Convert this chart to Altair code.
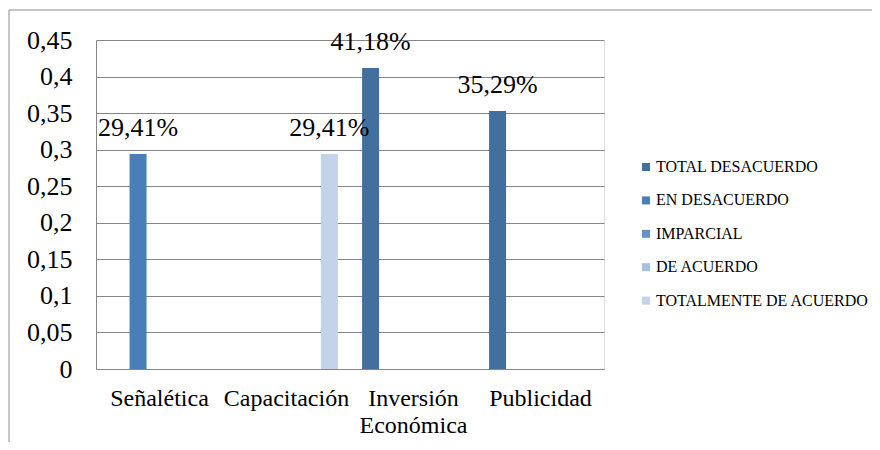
import altair as alt
import pandas as pd

categories = ["Señalética", "Capacitación", "Inversión Económica", "Publicidad"]
series = ["TOTAL DESACUERDO", "EN DESACUERDO", "IMPARCIAL", "DE ACUERDO", "TOTALMENTE DE ACUERDO"]
total_desacuerdo = [0, 0, 0.4118, 0.3529]
en_desacuerdo = [0.2941, 0, 0, 0]
imparcial = [0, 0, 0, 0]
de_acuerdo = [0, 0, 0, 0]
totalmente_de_acuerdo = [0, 0.2941, 0, 0]
colors = ["#41709E", "#4A7EB8", "#5B95CC", "#A6C0DF", "#C3D3EA"]
y_ticks = [0, 0.05, 0.1, 0.15, 0.2, 0.25, 0.3, 0.35, 0.4, 0.45]

values_by_series = [total_desacuerdo, en_desacuerdo, imparcial, de_acuerdo, totalmente_de_acuerdo]
rows = []
for s, vals in zip(series, values_by_series):
    for c, v in zip(categories, vals):
        rows.append({"categoria": c, "serie": s, "valor": v})
df = pd.DataFrame(rows)

FONT = "Times New Roman, Liberation Serif, serif"
GRID = "#868686"

x_enc = alt.X(
    "categoria:N",
    sort=categories,
    scale=alt.Scale(paddingInner=0.155, paddingOuter=0.0775),
    axis=alt.Axis(
        title=None,
        labelAngle=0,
        ticks=False,
        grid=False,
        domainColor=GRID,
        labelFont=FONT,
        labelFontSize=24,
        labelColor="black",
        labelPadding=17,
        labelLineHeight=27,
        labelExpr="split(datum.label, ' ')",
    ),
)
xoff_enc = alt.XOffset(
    "serie:N",
    sort=series,
    scale=alt.Scale(domain=series, paddingInner=0.21, paddingOuter=0.105),
)
y_enc = alt.Y(
    "valor:Q",
    scale=alt.Scale(domain=[0, 0.45], nice=False),
    axis=alt.Axis(
        title=None,
        values=y_ticks,
        ticks=False,
        grid=True,
        gridColor=GRID,
        domainColor=GRID,
        labelFont=FONT,
        labelFontSize=26,
        labelColor="black",
        labelPadding=24,
        labelExpr="replace(format(datum.value, '.2~f'), '.', ',')",
    ),
)

base = alt.Chart(df)

bars = base.mark_bar(size=17).encode(
    x=x_enc,
    xOffset=xoff_enc,
    y=y_enc,
    color=alt.Color(
        "serie:N",
        sort=series,
        scale=alt.Scale(domain=series, range=colors),
        legend=alt.Legend(
            title=None,
            orient="none",
            legendX=542,
            legendY=119,
            symbolType="square",
            symbolSize=64,
            symbolStrokeWidth=0,
            labelFont=FONT,
            labelFontSize=16,
            labelColor="black",
            labelOffset=2,
            rowPadding=17.4,
            labelLimit=300,
        ),
    ),
)

labels = base.transform_filter("datum.valor > 0").mark_text(
    font=FONT, fontSize=26, color="black", baseline="alphabetic", dy=-18
).encode(
    x=x_enc,
    xOffset=xoff_enc,
    y=y_enc,
    text=alt.Text("lbl:N"),
).transform_calculate(lbl="replace(format(datum.valor, '.2%'), '.', ',')")

frame_data = alt.Data(values=[{"k": 1}])
top_line = alt.Chart(frame_data).mark_rule(color="#8C8C8C", strokeWidth=1).encode(
    x=alt.value(-87), x2=alt.value(784), y=alt.value(-30)
)
left_line = alt.Chart(frame_data).mark_rule(color="#8C8C8C", strokeWidth=1).encode(
    x=alt.value(-87), y=alt.value(-30), y2=alt.value(410)
)

chart = alt.layer(bars, labels, top_line, left_line).properties(
    width=508,
    height=329,
    autosize=alt.AutoSizeParams(type="none"),
    padding={"left": 88, "top": 32, "right": 268, "bottom": 73},
).configure_view(stroke=None).configure(background="white")

chart.save("out.html", embed_options={"renderer": "svg", "actions": False})
